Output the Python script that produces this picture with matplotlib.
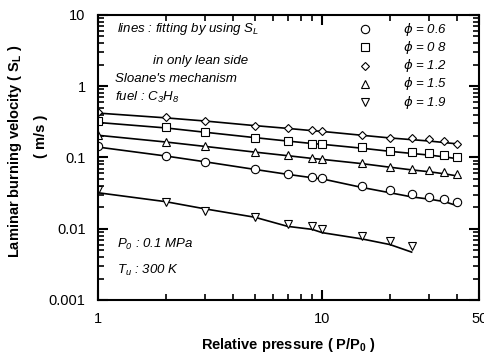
import matplotlib
matplotlib.use("Agg")
import matplotlib.pyplot as plt
from matplotlib.ticker import LogLocator, NullFormatter, FixedLocator, FixedFormatter

plt.rcParams['font.family'] = ['Liberation Sans', 'DejaVu Sans']

pressure = [1, 2, 3, 5, 7, 9, 10, 15, 20, 25, 30, 35, 40]
pressure_19 = [1, 2, 3, 5, 7, 9, 10, 15, 20, 25]

phi_labels = ["$\\phi$ = 0.6", "$\\phi$ = 0 8", "$\\phi$ = 1.2", "$\\phi$ = 1.5", "$\\phi$ = 1.9"]

# measured / computed points
sl_06 = [0.144, 0.104, 0.086, 0.068, 0.058, 0.053, 0.051, 0.040, 0.0345, 0.031, 0.028, 0.026, 0.0235]
sl_08 = [0.32, 0.265, 0.226, 0.19, 0.168, 0.157, 0.155, 0.14, 0.125, 0.118, 0.115, 0.11, 0.10]
sl_12 = [0.43, 0.366, 0.33, 0.28, 0.256, 0.24, 0.233, 0.21, 0.19, 0.185, 0.18, 0.168, 0.157]
sl_15 = [0.21, 0.165, 0.143, 0.119, 0.108, 0.097, 0.095, 0.083, 0.074, 0.068, 0.066, 0.062, 0.058]
sl_19 = [0.0345, 0.0235, 0.018, 0.0147, 0.0115, 0.0108, 0.0098, 0.0078, 0.0068, 0.0058]

# fitted lines
fit_06 = [0.14, 0.105, 0.087, 0.068, 0.058, 0.052, 0.050, 0.038, 0.032, 0.028, 0.026, 0.024, 0.021]
fit_08 = [0.31, 0.26, 0.226, 0.19, 0.17, 0.157, 0.153, 0.135, 0.122, 0.114, 0.108, 0.102, 0.096]
fit_12 = [0.42, 0.36, 0.325, 0.28, 0.256, 0.238, 0.232, 0.205, 0.188, 0.178, 0.17, 0.162, 0.155]
fit_15 = [0.205, 0.165, 0.143, 0.119, 0.106, 0.097, 0.094, 0.082, 0.073, 0.067, 0.063, 0.059, 0.055]
fit_19 = [0.032, 0.024, 0.019, 0.0145, 0.0108, 0.0098, 0.0088, 0.0072, 0.006, 0.0047]

fig = plt.figure(figsize=(4.84, 3.6), dpi=100)
ax = fig.add_axes([0.2025, 0.1667, 0.7875, 0.7917])

series = [
    (pressure, sl_06, fit_06, 'o'),
    (pressure, sl_08, fit_08, 's'),
    (pressure, sl_12, fit_12, 'D'),
    (pressure, sl_15, fit_15, '^'),
    (pressure_19, sl_19, fit_19, 'v'),
]
msizes = {'o': 6, 's': 6, 'D': 4, '^': 5.5, 'v': 6}
for x, y, f, m in series:
    ax.plot(x, f, color='black', lw=1.2)
    ax.plot(x, y, linestyle='none', marker=m, ms=msizes[m], mfc='white',
            mec='black', mew=0.8)

ax.set_xscale('log')
ax.set_yscale('log')
ax.set_xlim(1, 50)
ax.set_ylim(0.001, 10)

ax.xaxis.set_major_locator(FixedLocator([1, 10, 50]))
ax.xaxis.set_major_formatter(FixedFormatter(['1', '10', '50']))
ax.xaxis.set_minor_locator(FixedLocator([2, 3, 4, 5, 6, 7, 8, 9, 20, 30, 40]))
ax.xaxis.set_minor_formatter(NullFormatter())
ax.yaxis.set_major_locator(FixedLocator([0.001, 0.01, 0.1, 1, 10]))
ax.yaxis.set_major_formatter(FixedFormatter(['0.001', '0.01', '0.1', '1', '10']))
ax.yaxis.set_minor_locator(LogLocator(base=10, subs=range(2, 10)))
ax.yaxis.set_minor_formatter(NullFormatter())

ax.tick_params(which='both', direction='in', top=True, right=True, labelsize=10.5)
ax.tick_params(which='major', length=7, width=1.5, pad=9)
ax.tick_params(which='minor', length=4, width=1.2)
for s in ax.spines.values():
    s.set_linewidth(1.5)

ax.set_xlabel("Relative pressure ( P/P$_\\mathregular{0}$ )", fontsize=10.5,
              fontweight='bold', labelpad=7)
fig.text(0.03, 0.58, "Laminar burning velocity ( S$_\\mathregular{L}$ )", rotation=90,
         fontsize=10.5, fontweight='bold', ha='center', va='center')
fig.text(0.085, 0.62, "( m/s )", rotation=90, fontsize=10.5,
         fontweight='bold', ha='center', va='center')

# legend drawn by hand to mimic the figure
legend_markers = ['o', 's', 'D', '^', 'v']
for i, (m, lab) in enumerate(zip(legend_markers, phi_labels)):
    yy = 0.95 - i * 0.064
    ax.plot([0.70], [yy], transform=ax.transAxes, marker=m, ms=msizes[m],
            mfc='white', mec='black', mew=0.8, linestyle='none')
    ax.text(0.80, yy, lab, transform=ax.transAxes, fontsize=9.5,
            style='italic', va='center')

tk = dict(transform=ax.transAxes, fontsize=9.5, style='italic', va='center')
ax.text(0.05, 0.95, "lines : fitting by using S$_\\mathregular{L}$", **tk)
ax.text(0.145, 0.84, "in only lean side", **tk)
ax.text(0.045, 0.775, "Sloane's mechanism", **tk)
ax.text(0.045, 0.71, "fuel : C$_\\mathregular{3}$H$_\\mathregular{8}$", **tk)
ax.text(0.05, 0.195, "P$_\\mathregular{0}$ : 0.1 MPa", **tk)
ax.text(0.05, 0.105, "T$_\\mathregular{u}$ : 300 K", **tk)

fig.savefig("out.png", dpi=100)
